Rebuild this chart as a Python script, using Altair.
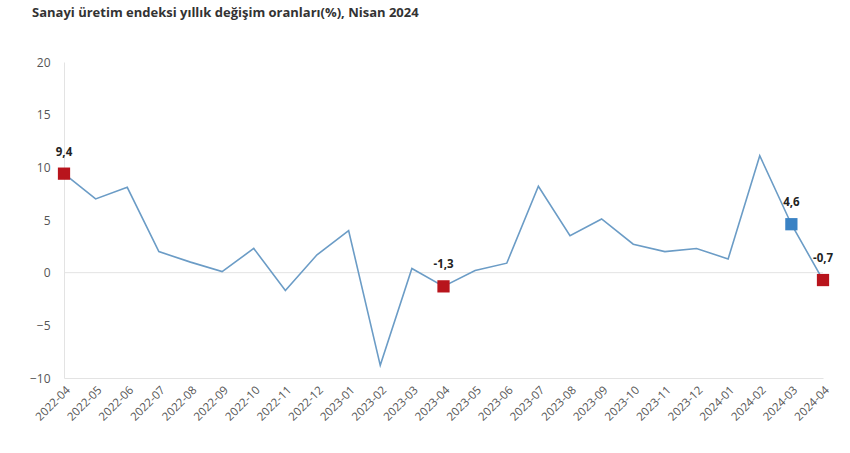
import altair as alt
import pandas as pd

months = ["2022-04", "2022-05", "2022-06", "2022-07", "2022-08", "2022-09",
          "2022-10", "2022-11", "2022-12", "2023-01", "2023-02", "2023-03",
          "2023-04", "2023-05", "2023-06", "2023-07", "2023-08", "2023-09",
          "2023-10", "2023-11", "2023-12", "2024-01", "2024-02", "2024-03",
          "2024-04"]
values = [9.4, 7.0, 8.1, 2.0, 1.0, 0.1, 2.3, -1.7, 1.7, 4.0, -8.8, 0.4,
          -1.3, 0.2, 0.9, 8.2, 3.5, 5.1, 2.7, 2.0, 2.3, 1.3, 11.1, 4.6, -0.7]

hl_months = ["2022-04", "2023-04", "2024-03", "2024-04"]
hl_kind = ["Nisan", "Nisan", "Mart", "Nisan"]

df = pd.DataFrame({"ay": months, "deger": values})
hl = pd.DataFrame({"ay": hl_months, "tur": hl_kind})
hl = hl.merge(df, on="ay")
hl["etiket"] = hl["deger"].map(lambda v: f"{v:.1f}".replace(".", ","))

FONT = "Open Sans"

x_enc = alt.X("ay:O", sort=months,
              scale=alt.Scale(type="point", padding=0),
              axis=alt.Axis(title=None, labelAngle=-45, labelAlign="right",
                            labelBaseline="top", labelPadding=6, ticks=False,
                            domainColor="#e3e3e3", labelColor="#555555",
                            labelFontSize=11.5, labelFont=FONT, grid=False))
y_scale = alt.Scale(domain=[-10, 20], nice=False, zero=False)
y_enc = alt.Y("deger:Q", scale=y_scale,
              axis=alt.Axis(title=None, values=[-10, -5, 0, 5, 10, 15, 20],
                            ticks=False, grid=False, domainColor="#e3e3e3",
                            labelColor="#555555", labelFontSize=12,
                            labelFont=FONT, labelPadding=14))

base = alt.Chart(df)

zero = alt.Chart(pd.DataFrame({"z": [0]})).mark_rule(
    color="#e3e3e3", strokeWidth=1).encode(y=alt.Y("z:Q", scale=y_scale))

line = base.mark_line(color="#6b9cc6", strokeWidth=1.6).encode(x=x_enc, y=y_enc)

pts = alt.Chart(hl).mark_point(shape="square", filled=True, size=150,
                               opacity=1).encode(
    x=alt.X("ay:O", sort=months),
    y=alt.Y("deger:Q"),
    color=alt.Color("tur:N",
                    scale=alt.Scale(domain=["Nisan", "Mart"],
                                    range=["#b8141c", "#3a82c4"]),
                    legend=None))

labels = alt.Chart(hl).mark_text(dy=-21, fontSize=11.5, fontWeight="bold",
                                 color="#222222", font=FONT).encode(
    x=alt.X("ay:O", sort=months),
    y=alt.Y("deger:Q"),
    text="etiket:N")

chart = alt.layer(zero, line, pts, labels).properties(
    width=759, height=316,
    title=alt.TitleParams("Sanayi üretim endeksi yıllık değişim oranları(%), Nisan 2024",
                          anchor="start", frame="group", dx=-32, offset=36,
                          fontSize=13, fontWeight="bold", font=FONT,
                          color="#333333"),
    autosize=alt.AutoSizeParams(type="none"),
    padding={"left": 64, "top": 62, "right": 27, "bottom": 75},
).configure_view(stroke=None)

chart.save("out.html", embed_options={"renderer": "svg", "actions": False})
